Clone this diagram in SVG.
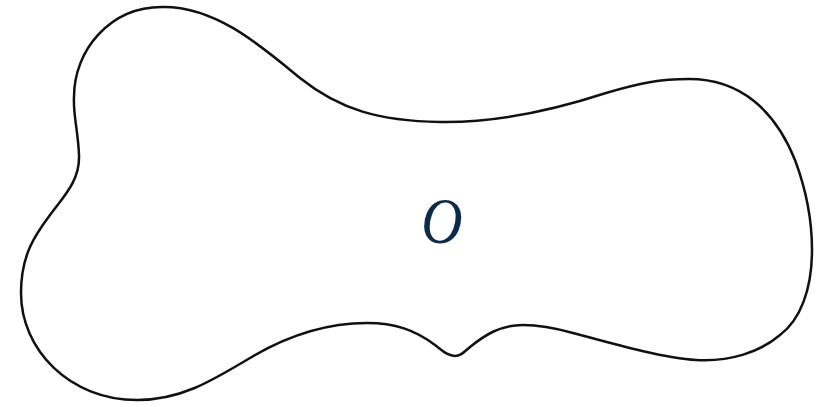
<svg xmlns="http://www.w3.org/2000/svg" width="826" height="407" viewBox="0 0 826 407">
<style>
.blob{fill:none;stroke:#111;stroke-width:2.5;stroke-linejoin:round}
.lbl{font-family:"Liberation Serif","Times New Roman",serif;font-style:italic;font-size:65px;fill:#0d2a48}
</style>
<rect width="826" height="407" fill="#fff"/>
<g id="region-O">
<path class="blob" d="M162,7 C215,6 260,45 300,78 C340,110 380,121 440,122 C500,123 560,108 606,93 C640,83 660,79 689,79 C740,79 775,110 795,160 C810,200 812,230 812,250 C812,290 800,320 780,335 C760,352 730,362 696,360 C660,358 600,340 573,333 C555,328 540,325 523,325 C500,325 485,335 470,347 C463,353 460,356 455,356 C448,356 443,351 435,345 C415,330 395,323 367,323 C320,323 280,340 250,358 C210,382 180,400 137,400 C70,400 21,350 21,293 C21,255 35,235 50,215 C65,195 80,180 79,155 C78,130 73,115 74,97 C74,50 110,7 162,7 Z"/>
<text class="lbl" transform="translate(442,243) scale(0.88,1)" text-anchor="middle">O</text>
</g>
</svg>
